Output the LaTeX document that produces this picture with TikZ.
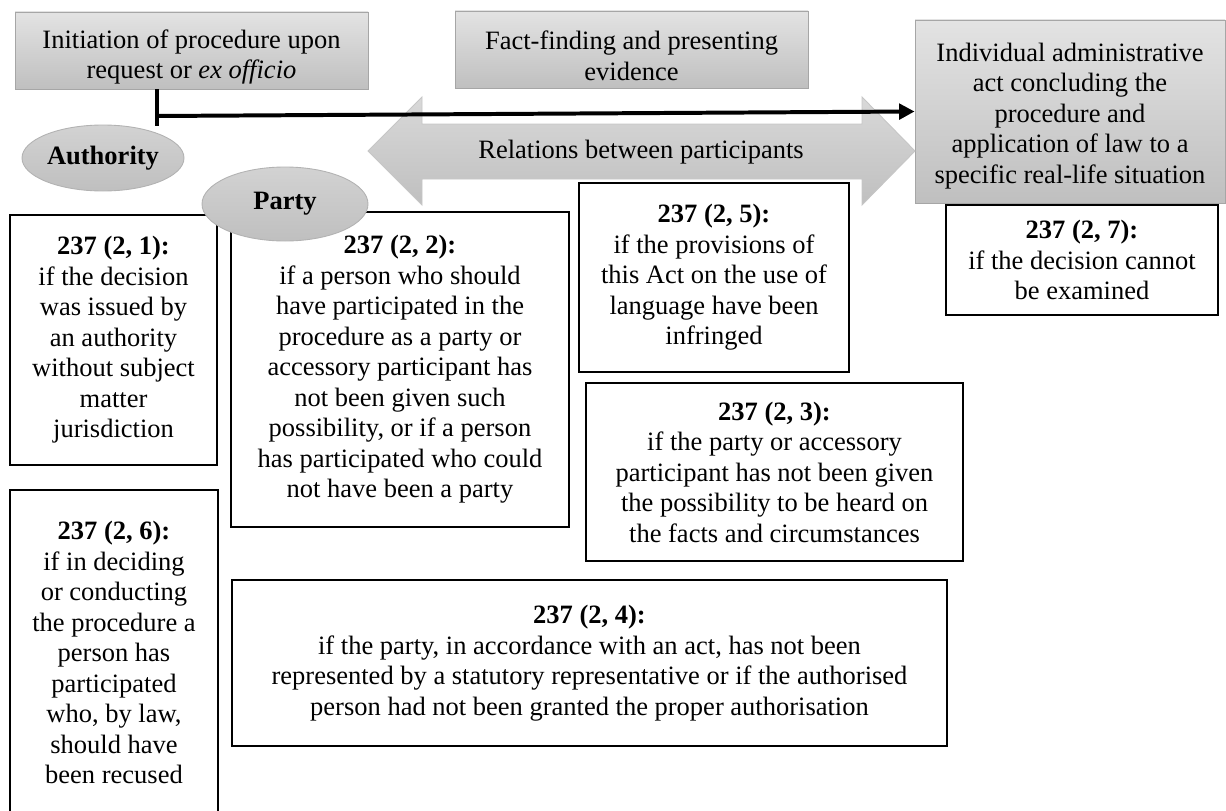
\documentclass[tikz,border=0pt]{standalone}
\usepackage{fontspec}
\setmainfont{Liberation Serif}
\usetikzlibrary{arrows.meta,shapes.geometric}

\newcommand{\bodysize}{\fontsize{12}{13.8}\selectfont}

\tikzset{
  stage/.style={draw=gray!70, top color=gray!22, bottom color=gray!50, align=center, inner sep=2pt},
  actor/.style={ellipse, draw=gray!60, top color=gray!35, bottom color=gray!50, font=\bodysize\bfseries, inner sep=0pt},
  ground/.style={draw, line width=1pt, fill=white, align=center, inner sep=2pt},
  dims/.style 2 args={minimum width=#1*0.4528pt, minimum height=#2*0.4528pt},
  flow/.style={line width=1.8pt},
}

\begin{document}
\begin{tikzpicture}[x=0.4528pt, y=-0.4528pt, font=\bodysize]
\useasboundingbox (0,0) rectangle (1226,810);
\clip (0,0) rectangle (1226,810);

% stages of the procedure
\node[stage, dims={353}{77}, text height=28pt] (init) at (191.5,50.5) {Initiation of procedure upon\\request or \textit{ex officio}};
\node[stage, dims={353}{77}, text height=28pt] (fact) at (631.5,49.5) {Fact-finding and presenting\\evidence};
\node[stage, dims={310}{183}, text height=67.5pt] (indiv) at (1070,111.5) {Individual administrative\\act concluding the\\procedure and\\application of law to a\\specific real-life situation};

% relations between participants
\draw[draw=gray!45, top color=gray!30, bottom color=gray!50] (368,151) -- (422,97) -- (422,124) -- (862,124) -- (862,97) -- (915,151) -- (862,205) -- (862,179) -- (422,179) -- (422,205) -- cycle;
\node (rel) at (641,152) {Relations between participants};

% course of the procedure
\coordinate (turn) at (157,116);
\coordinate (stub) at (157,126);
\draw[flow] (init.south -| stub) -- (stub);
\draw[flow, -{Triangle[length=7pt, width=7pt]}] (turn) -- (indiv.west);

% grounds
\node[ground, dims={207}{250}] (g1) at (113.5,340) {\textbf{237 (2, 1):}\\if the decision\\was issued by\\an authority\\without subject\\matter\\jurisdiction};
\node[ground, dims={338}{315}] (g2) at (400,369.5) {\textbf{237 (2, 2):}\\if a person who should\\have participated in the\\procedure as a party or\\accessory participant has\\not been given such\\possibility, or if a person\\has participated who could\\not have been a party};
\node[ground, dims={270}{189}] (g5) at (714,277.5) {\textbf{237 (2, 5):}\\if the provisions of\\this Act on the use of\\language have been\\infringed};
\node[ground, dims={377}{178}] (g3) at (774.5,472) {\textbf{237 (2, 3):}\\if the party or accessory\\participant has not been given\\the possibility to be heard on\\the facts and circumstances};
\node[ground, dims={272}{110}] (g7) at (1082,260) {\textbf{237 (2, 7):}\\if the decision cannot\\be examined};
\node[ground, dims={208}{325}] (g6) at (114,652.5) {\textbf{237 (2, 6):}\\if in deciding\\or conducting\\the procedure a\\person has\\participated\\who, by law,\\should have\\been recused};
\node[ground, dims={715}{166}] (g4) at (589.5,663) {\textbf{237 (2, 4):}\\if the party, in accordance with an act, has not been\\represented by a statutory representative or if the authorised\\person had not been granted the proper authorisation};

% participants
\node[actor, dims={162}{66}] (auth) at (103,158) {Authority};
\node[actor, dims={166}{74}] (party) at (285,204) {Party};
\end{tikzpicture}
\end{document}
